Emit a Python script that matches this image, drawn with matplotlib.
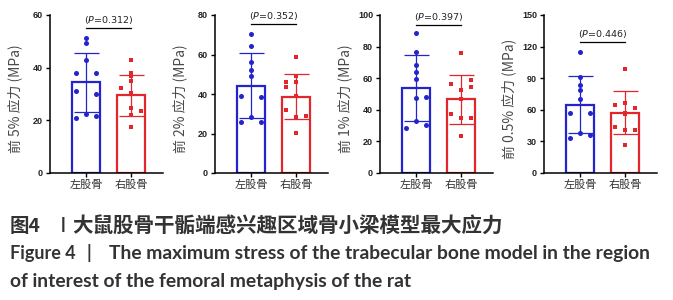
import numpy as np
import matplotlib
matplotlib.use("Agg")
import matplotlib.pyplot as plt

# Peak stress per strain level, left vs right femur (MPa)
groups = ["左股骨", "右股骨"]
strain_labels = ["5%", "2%", "1%", "0.5%"]
p_values = ["0.312", "0.352", "0.397", "0.446"]

mean_left = [34.4, 44.3, 53.7, 65.0]
sd_left = [11.1, 16.3, 20.8, 27.0]
mean_right = [29.6, 38.7, 46.7, 57.4]
sd_right = [7.8, 11.5, 15.4, 20.2]

pts_left = [
    [51.3, 49.4, 42.8, 38.1, 38.1, 31.0, 30.0, 22.5, 21.0, 21.5],
    [70.2, 64.3, 56.1, 51.9, 49.2, 39.2, 38.7, 28.3, 25.6, 25.6],
    [88.8, 76.4, 68.4, 63.8, 59.4, 47.4, 47.8, 32.6, 30.1, 28.4],
    [115.0, 90.7, 84.0, 78.7, 70.7, 57.1, 57.1, 38.1, 35.8, 33.3],
]
pts_right = [
    [42.75, 38.1, 36.9, 35.0, 32.25, 30.4, 24.75, 23.4, 21.9, 17.5],
    [58.9, 49.2, 46.1, 46.1, 43.4, 39.2, 32.0, 29.1, 28.6, 20.5],
    [75.8, 58.9, 56.2, 54.3, 52.6, 46.7, 37.3, 34.7, 34.7, 23.6],
    [98.7, 66.0, 65.0, 61.8, 55.6, 43.8, 40.6, 40.6, 27.0, 57.0],
]

y_max = [60, 80, 100, 150]
y_step = [20, 20, 20, 30]

# layout of the dots (-1 left, 0 middle, 1 right of bar centre)
jit_left = [
    [0, 0, 0, -1, 1, -1, 1, 0, -1, 1],
    [0, 0, 0, 0, 0, -1, 1, 0, -1, 1],
    [0, 0, 0, 0, 0, 0, 1, 0, 1, -1],
    [0, 0, 0, 0, 0, -1, 1, 0, 1, -1],
]
jit_right = [
    [0, 0, 0, 0, -1, 0, 0, 1, 0, 0],
    [0, 0, -1, 0, -1, 0, -1, 1, 0, 0],
    [0, 1, -1, 1, 0, 0, -1, 0, 1, 0],
    [0, 0, -1, 1, 0, -1, 0, 1, 0, 0],
]
bracket_frac = [0.918, 0.943, 0.937, 0.829]

BLUE = "#2424cc"
RED = "#e3262c"
W, H = 673, 300

fig = plt.figure(figsize=(W / 100, H / 100), dpi=100)

ax_left_px = [50, 215, 380, 544]
for i in range(4):
    ax = fig.add_axes([ax_left_px[i] / W, 1 - 173 / H, 113 / W, 158 / H])
    for x, m, sd, pts, jit, col, mk, sz in [
        (0, mean_left[i], sd_left[i], pts_left[i], jit_left[i], BLUE, "o", 13),
        (1, mean_right[i], sd_right[i], pts_right[i], jit_right[i], RED, "s", 9),
    ]:
        ax.bar(x, m, width=0.62, facecolor="white", edgecolor=col, linewidth=1.6, zorder=2)
        ax.errorbar(x, m, yerr=sd, color=col, lw=0.9, capsize=9, capthick=0.9, zorder=3)
        ax.scatter(x + 0.22 * np.array(jit), pts, s=sz, marker=mk, color=col, zorder=4, linewidths=0)

    ax.set_xlim(-0.8, 1.71)
    ax.set_ylim(0, y_max[i])
    ax.set_yticks(np.arange(0, y_max[i] + 1, y_step[i]))
    ax.set_xticks([0, 1])
    ax.set_xticklabels(groups, fontsize=8, family=["Noto Sans CJK SC"], color="#333333")
    for lab in ax.get_yticklabels():
        lab.set_fontsize(6.5)
        lab.set_fontweight("bold")
        lab.set_family("Liberation Sans")
        lab.set_color("#222222")
    ax.tick_params(axis="both", length=3, width=1, pad=2)
    for s in ["top", "right"]:
        ax.spines[s].set_visible(False)
    for s in ["left", "bottom"]:
        ax.spines[s].set_linewidth(1.1)

    ax.set_ylabel(f"前 {strain_labels[i]} 应力 (MPa)", fontsize=10,
                  family=["Noto Sans CJK SC", "DejaVu Sans"], color="#4a4a4a")
    ax.yaxis.set_label_coords(-0.25, 0.47)

    yb = bracket_frac[i] * y_max[i]
    ax.plot([0, 1], [yb, yb], color="black", lw=0.9, clip_on=False, zorder=5)
    ax.text(0.5, yb + 0.01 * y_max[i], f"($\\it{{P}}$={p_values[i]})", ha="center", va="bottom",
            fontsize=6.8, color="#222222", clip_on=False)

cap_cn = "大鼠股骨干骺端感兴趣区域骨小梁模型最大应力"
fig.text(10 / W, 1 - 226 / H, "图4", fontsize=14, fontweight="bold",
         family=["Noto Sans CJK SC"], va="center", color="#333333")
fig.text(55 / W, 1 - 226 / H, "丨", fontsize=12, fontweight="bold",
         family=["Noto Sans CJK SC"], va="center", color="#333333")
fig.text(72 / W, 1 - 226 / H, cap_cn, fontsize=14.8, fontweight="bold",
         family=["Noto Sans CJK SC"], va="center", color="#333333")
fig.text(10 / W, 1 - 253 / H, "Figure 4", fontsize=13, fontweight="bold",
         family="Lato", va="center", color="#333333")
fig.text(86 / W, 1 - 253 / H, "|", fontsize=13.5, fontweight="bold",
         family="Lato", va="center", color="#333333")
fig.text(109 / W, 1 - 253 / H, "The maximum stress of the trabecular bone model in the region",
         fontsize=13.9, fontweight="bold", family="Lato", va="center", color="#333333")
fig.text(10 / W, 1 - 281 / H, "of interest of the femoral metaphysis of the rat",
         fontsize=13.9, fontweight="bold", family="Lato", va="center", color="#333333")

fig.savefig("out.png", dpi=100)
